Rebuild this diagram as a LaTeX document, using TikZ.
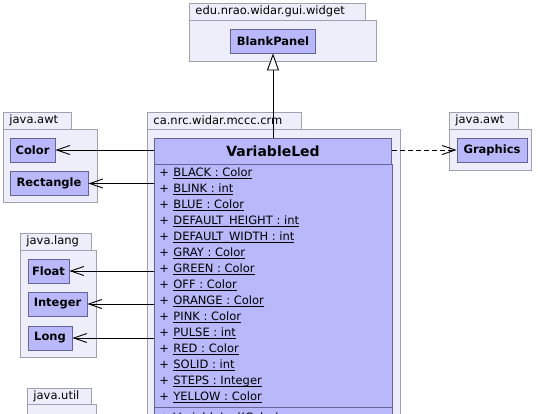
\documentclass[tikz,border=0pt]{standalone}
\usepackage{fontspec}
\setmainfont{DejaVu Sans}
\usetikzlibrary{arrows.meta}
\definecolor{pkgfill}{RGB}{238,238,250}
\definecolor{pkgline}{RGB}{160,160,178}
\definecolor{clsfill}{RGB}{184,184,250}
\definecolor{clsline}{RGB}{100,100,150}
\newcommand{\stat}[1]{\underline{\smash{#1}}}

\begin{document}
\begin{tikzpicture}[x=1pt,y=-1pt,line width=0.9pt,
    every node/.style={font=\fontsize{11.5}{13}\selectfont},
    pkg/.style={draw=pkgline,fill=pkgfill},
    pkgname/.style={anchor=west,inner sep=0pt},
    cls/.style={draw=clsline,fill=clsfill,inner sep=0pt,font=\fontsize{11.5}{13}\selectfont\bfseries},
    attr/.style={anchor=west,inner sep=0pt},
    uses/.style={-{Straight Barb[length=13pt,width=9pt]}},
    extends/.style={-{Triangle[open,length=17pt,width=12pt,fill=white]}}]
    \useasboundingbox (0,0) rectangle (538,413);
    \clip (0,0) rectangle (538,413);

    \draw[pkg] (189,3) rectangle (365,20);
    \draw[pkg] (189,20) rectangle (376,61);
    \node[pkgname] (pwidget) at (195,11.5) {edu.nrao.widar.gui.widget};
    \node[cls,minimum width=85,minimum height=24] (blank) at (273,41) {BlankPanel};

    \draw[pkg] (3,112) rectangle (71,129);
    \draw[pkg] (3,129) rectangle (97,202);
    \node[pkgname] (pawt) at (9,120.5) {java.awt};
    \node[cls,minimum width=45,minimum height=24] (color) at (32.5,150) {Color};
    \node[cls,minimum width=78,minimum height=24] (rect) at (49,183.5) {Rectangle};

    \draw[pkg] (20,233) rectangle (91,250);
    \draw[pkg] (20,250) rectangle (96,357);
    \node[pkgname] (plang) at (26,241.5) {java.lang};
    \node[cls,minimum width=41,minimum height=24] (float) at (48.5,271) {Float};
    \node[cls,minimum width=59,minimum height=24] (integer) at (57.5,304) {Integer};
    \node[cls,minimum width=44,minimum height=24] (long) at (50,338) {Long};

    \draw[pkg] (27,388) rectangle (91,404);
    \draw[pkg] (27,404) rectangle (96,450);
    \node[pkgname] (putil) at (33,396) {java.util};

    \draw[pkg] (449,112) rectangle (518,129);
    \draw[pkg] (449,129) rectangle (531,170);
    \node[pkgname] (pawt2) at (455,120.5) {java.awt};
    \node[cls,minimum width=70,minimum height=24] (graphics) at (492,150) {Graphics};

    \draw[pkg] (147,112) rectangle (301,129);
    \draw[pkg] (147,129) rectangle (400,450);
    \node[pkgname] (pcrm) at (153,120.5) {ca.nrc.widar.mccc.crm};
    \node[cls,minimum width=237,minimum height=25.5,font=\fontsize{14}{16}\selectfont\bfseries] (vled) at (273,151.25) {VariableLed};
    \draw[draw=clsline,fill=clsfill] (vled.south west) rectangle ([yshift=-290pt]vled.south east);
    \foreach \nm/\ty [count=\i] in {BLACK/Color,BLINK/int,BLUE/Color,DEFAULT\_HEIGHT/int,DEFAULT\_WIDTH/int,GRAY/Color,GREEN/Color,OFF/Color,ORANGE/Color,PINK/Color,PULSE/int,RED/Color,SOLID/int,STEPS/Integer,YELLOW/Color}
        \node[attr] (a\i) at (159,158+16*\i) {\makebox[14pt][l]{+}\stat{\nm{} : \ty}};
    \coordinate (sep) at (0,407);
    \draw[clsline] (vled.west |- sep) -- (vled.east |- sep);
    \node[attr] (ctor) at (159,418) {\makebox[14pt][l]{+}VariableLed(Color)};

    \draw[extends] (vled.north) -- (blank.south);
    \draw[uses] (vled.west |- color) -- (color);
    \draw[uses] (vled.west |- rect) -- (rect);
    \draw[uses] (vled.west |- float) -- (float);
    \draw[uses] (vled.west |- integer) -- (integer);
    \draw[uses] (vled.west |- long) -- (long);
    \draw[uses,dash pattern=on 5pt off 3pt] (vled.east |- graphics) -- (graphics);
\end{tikzpicture}
\end{document}
